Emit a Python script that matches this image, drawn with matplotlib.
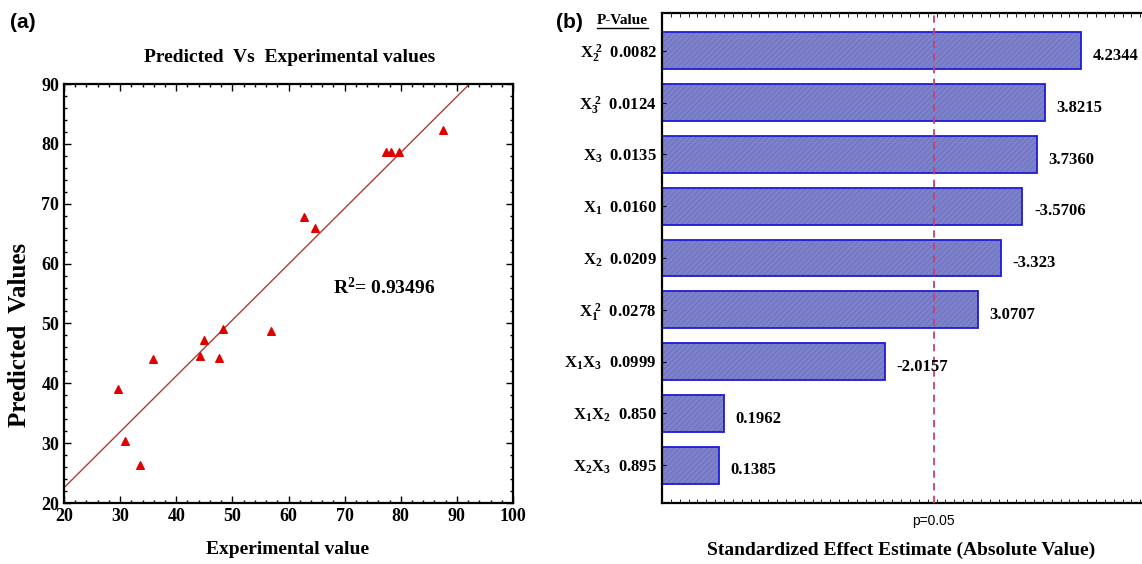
import matplotlib
matplotlib.use("Agg")
import numpy as np
import matplotlib.pyplot as plt
from matplotlib.ticker import MultipleLocator

plt.rcParams["font.family"] = "Liberation Serif"
plt.rcParams["font.weight"] = "bold"
plt.rcParams["mathtext.fontset"] = "custom"
plt.rcParams["mathtext.rm"] = "Liberation Serif:bold"
plt.rcParams["mathtext.it"] = "Liberation Serif:bold"
plt.rcParams["mathtext.bf"] = "Liberation Serif:bold"
plt.rcParams["hatch.linewidth"] = 0.5

# (a) experimental vs predicted response
experimental = [29.7, 30.8, 33.5, 35.9, 44.3, 45.0, 47.6, 48.3, 56.8,
                62.8, 64.7, 77.3, 78.2, 79.7, 87.5]
predicted = [39.1, 30.3, 26.4, 44.0, 44.6, 47.2, 44.3, 49.0, 48.7,
             67.8, 65.9, 78.7, 78.7, 78.7, 82.3]
r_squared = "0.93496"

# (b) Pareto chart of standardized effects
terms = [r"$\mathrm{X_2^{\ 2}}$", r"$\mathrm{X_3^{\ 2}}$", r"$\mathrm{X_3}$",
         r"$\mathrm{X_1}$", r"$\mathrm{X_2}$", r"$\mathrm{X_1^{\ 2}}$",
         r"$\mathrm{X_1X_3}$", r"$\mathrm{X_1X_2}$", r"$\mathrm{X_2X_3}$"]
p_values = ["0.0082", "0.0124", "0.0135", "0.0160", "0.0209", "0.0278",
            "0.0999", "0.850", "0.895"]
effects = [4.2344, 3.8215, 3.7360, -3.5706, -3.323, 3.0707, -2.0157,
           0.1962, 0.1385]
effect_labels = ["4.2344", "3.8215", "3.7360", "-3.5706", "-3.323", "3.0707",
                 "-2.0157", "0.1962", "0.1385"]
t_crit = 2.571  # p = 0.05

W, H = 1142, 564
fig = plt.figure(figsize=(W / 100, H / 100), dpi=100)


def box(l, t, r, b):
    return [l / W, 1 - b / H, (r - l) / W, (b - t) / H]


# ---- panel (a) ----
ax1 = fig.add_axes(box(64, 84, 513, 503))
x = np.array(experimental)
y = np.array(predicted)
slope, icpt = np.polyfit(x, y, 1)
xx = np.array([20, 100])
ax1.plot(xx, icpt + slope * xx, color="#b03a3a", lw=1.0)
ax1.scatter(x, y, marker="^", s=30, color="#e00000", zorder=3)
ax1.set_xlim(20, 100)
ax1.set_ylim(20, 90)
ax1.xaxis.set_major_locator(MultipleLocator(10))
ax1.xaxis.set_minor_locator(MultipleLocator(2))
ax1.yaxis.set_major_locator(MultipleLocator(10))
ax1.yaxis.set_minor_locator(MultipleLocator(2))
ax1.tick_params(which="both", direction="in", top=True, right=True,
                labelsize=13, width=1.0)
ax1.tick_params(which="major", length=5)
ax1.tick_params(which="minor", length=2.5)
for s in ax1.spines.values():
    s.set_linewidth(1.6)
ax1.text(68, 56, r"R$^2$= " + r_squared, fontsize=14, fontweight="bold",
         va="center")

fig.text(290 / W, 1 - 57 / H, "Predicted  Vs  Experimental values",
         ha="center", va="center", fontsize=14, fontweight="bold")
fig.text(288 / W, 1 - 550 / H, "Experimental value", ha="center",
         va="center", fontsize=14, fontweight="bold")
fig.text(20 / W, 1 - 335 / H, "Predicted  Values", rotation=90,
         ha="center", va="center", fontsize=18, fontweight="bold")

# ---- panel (b) ----
ax2 = fig.add_axes(box(662, 13, 1142, 503))
pos = np.arange(len(effects))
mag = np.abs(effects)
x0 = -0.5
ax2.barh(pos, mag - x0, left=x0, height=0.71, color="#7e82cc",
         edgecolor="#676bb6", hatch="//////", linewidth=0)
ax2.barh(pos, mag - x0, left=x0, height=0.71, fill=False,
         edgecolor="#1c1cd4", linewidth=1.3)
ax2.axvline(t_crit, color="#c8406e", lw=1.3, ls=(0, (4, 3)), zorder=3)
for p, m, lab in zip(pos, mag, effect_labels):
    ax2.text(m + 0.13, p + 0.1, lab, va="center", ha="left", fontsize=12,
             fontweight="bold")
ax2.set_xlim(x0, 4.92)
ax2.set_ylim(len(effects) - 0.27, -0.73)
ax2.set_yticks(pos)
ax2.set_yticklabels([f"{t}  {p}" for t, p in zip(terms, p_values)],
                    fontsize=12)
ax2.set_xticks([t_crit])
ax2.set_xticklabels(["p=0.05"], family="Liberation Sans", fontweight="normal",
                    fontsize=10)
ax2.xaxis.set_minor_locator(MultipleLocator(0.1))
ax2.tick_params(axis="x", which="major", direction="in", top=True,
                length=0, pad=8)
ax2.tick_params(axis="x", which="minor", direction="in", top=True, length=3)
ax2.tick_params(axis="y", direction="in", length=3, pad=4)
ax2.spines["right"].set_visible(False)
for s in ("left", "top", "bottom"):
    ax2.spines[s].set_linewidth(1.6)

fig.text(901 / W, 1 - 550 / H, "Standardized Effect Estimate (Absolute Value)",
         ha="center", va="center", fontsize=14, fontweight="bold")
fig.text(622 / W, 1 - 21 / H, "P-Value", ha="center", va="center",
         fontsize=11, fontweight="bold")
fig.add_artist(plt.Line2D([597 / W, 648 / W], [1 - 28 / H, 1 - 28 / H],
                          color="black", lw=1.0))

fig.text(10 / W, 1 - 22 / H, "(a)", family="Liberation Sans",
         fontweight="bold", fontsize=15, va="center")
fig.text(556 / W, 1 - 22 / H, "(b)", family="Liberation Sans",
         fontweight="bold", fontsize=15, va="center")

fig.savefig("out.png", dpi=100)
plt.close(fig)
